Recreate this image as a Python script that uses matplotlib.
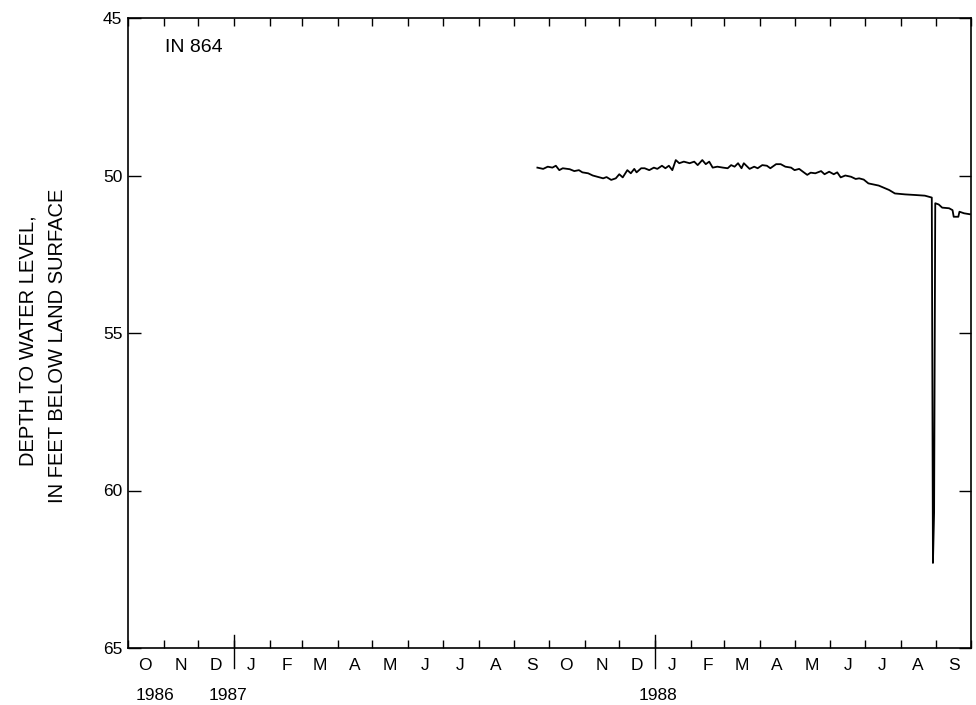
#!/usr/bin/env python3
"""Hydrograph of well IN 864, depth to water level, Oct 1986 - Sep 1988."""
import numpy as np
import matplotlib
matplotlib.use("Agg")
import matplotlib.pyplot as plt
import matplotlib.dates as mdates
import matplotlib.transforms as mtransforms

plt.rcParams["font.family"] = ["Liberation Sans", "DejaVu Sans"]

WELL = "IN 864"
YLABEL_LINES = ["DEPTH TO WATER LEVEL,", "IN FEET BELOW LAND SURFACE"]
MONTH_LABELS = ["O", "N", "D", "J", "F", "M", "A", "M", "J", "J", "A", "S"] * 2
YEAR_LABELS = ["1986", "1987", "1988"]
YEAR_LABEL_DATES = ["1986-10-24", "1986-12-27", "1988-01-04"]
YEAR_TICK_DATES = ["1987-01-01", "1988-01-01"]

# days after 1 Oct 1987, and depth below land surface (ft)
day_offset = [
    -10, -5, -1, 3, 6, 9, 12, 18, 22, 26, 29, 34, 38, 42, 47, 50, 54, 58,
    61, 64, 68, 71, 74, 76, 80, 83, 87, 91, 94, 98, 101, 104, 107, 110, 113,
    117, 122, 126, 129, 133, 136, 139, 142, 146, 151, 155, 158, 161, 164,
    167, 169, 174, 178, 181, 185, 189, 192, 197, 201, 205, 210, 213, 217,
    221, 224, 227, 231, 236, 239, 243, 247, 250, 253, 257, 262, 266, 269,
    273, 277, 286, 295, 300, 309, 318, 326, 329, 332, 333, 334, 335, 338,
    341, 347, 350, 351, 355, 356, 360, 365,
]
depth = [
    49.75, 49.79, 49.72, 49.75, 49.69, 49.83, 49.77, 49.80, 49.86, 49.83,
    49.90, 49.93, 50.00, 50.04, 50.09, 50.05, 50.14, 50.09, 49.96, 50.06,
    49.83, 49.93, 49.79, 49.90, 49.77, 49.77, 49.83, 49.75, 49.79, 49.69,
    49.77, 49.69, 49.83, 49.51, 49.61, 49.56, 49.61, 49.56, 49.67, 49.51,
    49.64, 49.56, 49.75, 49.72, 49.75, 49.77, 49.67, 49.72, 49.61, 49.77,
    49.61, 49.79, 49.72, 49.77, 49.67, 49.69, 49.77, 49.64, 49.64, 49.72,
    49.75, 49.83, 49.79, 49.90, 49.98, 49.91, 49.93, 49.86, 49.96, 49.88,
    49.96, 49.90, 50.06, 50.00, 50.04, 50.11, 50.09, 50.13, 50.25, 50.32,
    50.46, 50.57, 50.60, 50.62, 50.64, 50.67, 50.70, 62.30, 60.70, 50.88,
    50.92, 51.02, 51.04, 51.10, 51.31, 51.31, 51.15, 51.20, 51.23,
]


def main():
    fig = plt.figure(figsize=(9.76, 7.05), dpi=100)
    ax = fig.add_axes([128 / 976, 1 - 648 / 705, 843 / 976, 630 / 705])

    dates = np.datetime64("1987-10-01") + np.array(day_offset, dtype="timedelta64[D]")
    ax.plot(dates, depth, color="black", linewidth=1.3)

    ax.set_xlim(np.datetime64("1986-10-01"), np.datetime64("1988-10-01"))
    ax.set_ylim(65, 45)
    ax.set_yticks([45, 50, 55, 60, 65])

    # month boundaries as ticks, month letters at mid-month
    ax.xaxis.set_major_locator(mdates.MonthLocator())
    ax.xaxis.set_major_formatter(matplotlib.ticker.NullFormatter())
    ax.xaxis.set_minor_locator(mdates.MonthLocator(bymonthday=16))
    ax.xaxis.set_minor_formatter(matplotlib.ticker.FixedFormatter(MONTH_LABELS))
    ax.tick_params(axis="x", which="major", direction="in", length=6, width=1.0,
                   top=True, bottom=True)
    ax.tick_params(axis="x", which="minor", length=0, pad=7, labelsize=12.5)
    ax.tick_params(axis="y", which="major", direction="in", length=9, width=1.0,
                   left=True, right=True, pad=4, labelsize=12.5)

    for s in ax.spines.values():
        s.set_linewidth(1.2)

    trans = mtransforms.blended_transform_factory(ax.transData, ax.transAxes)
    for d in YEAR_TICK_DATES:
        ax.plot([np.datetime64(d)] * 2, [-0.032, 0.021], transform=trans,
                color="black", linewidth=1.0, clip_on=False)
    for lab, d in zip(YEAR_LABELS, YEAR_LABEL_DATES):
        ax.text(np.datetime64(d), -0.075, lab, transform=trans, ha="center",
                va="center", fontsize=12.5)

    ax.text(np.datetime64("1986-11-02"), 45.95, WELL, ha="left", va="center",
            fontsize=14)

    # two-line axis title, placed as in the original
    fig.text(28 / 976, 1 - 341 / 705, YLABEL_LINES[0], rotation=90,
             ha="center", va="center", fontsize=14.5)
    fig.text(58 / 976, 1 - 346 / 705, YLABEL_LINES[1], rotation=90,
             ha="center", va="center", fontsize=14.5)

    fig.savefig("out.png", dpi=100)
    plt.close(fig)


if __name__ == "__main__":
    main()
